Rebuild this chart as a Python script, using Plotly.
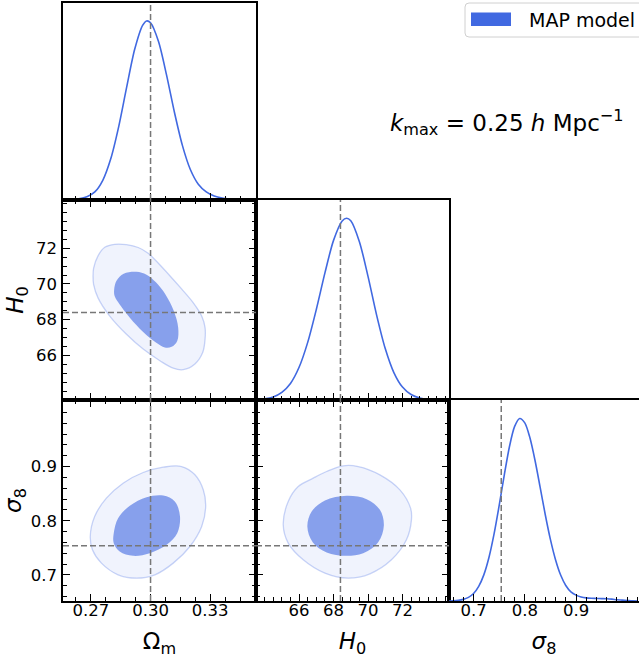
import plotly.graph_objects as go

# ---------------- data ----------------
PARAM_LABELS = ["Ω<sub>m</sub>", "<i>H</i><sub>0</sub>", "<i>σ</i><sub>8</sub>"]
TRUTH_OM = 0.30
TRUTH_H0 = 68.4
TRUTH_S8 = 0.754

OM_RANGE = [0.256, 0.353]
H0_RANGE = [63.5, 74.7]
S8_RANGE = [0.652, 1.023]
PDF_RANGE = [0, 1.1]

OM_TICKS = [0.27, 0.30, 0.33]
OM_TICKTEXT = ["0.27", "0.30", "0.33"]
H0_TICKS = [66, 68, 70, 72]
H0_TICKTEXT = ["66", "68", "70", "72"]
S8_TICKS = [0.7, 0.8, 0.9]
S8_TICKTEXT = ["0.7", "0.8", "0.9"]
OM_MINOR = 0.0075
H0_MINOR = 0.5
S8_MINOR = 0.02

# 1D marginal posteriors (peak-normalised)
OM_GRID = [0.256, 0.260, 0.264, 0.268, 0.272, 0.276, 0.280, 0.284, 0.288, 0.292,
           0.296, 0.298, 0.300, 0.304, 0.308, 0.312, 0.316, 0.320, 0.324, 0.328,
           0.332, 0.336, 0.340, 0.344, 0.348, 0.352]
OM_PDF = [0.001, 0.003, 0.007, 0.018, 0.045, 0.11, 0.23, 0.41, 0.63, 0.84,
          0.975, 1.0, 0.99, 0.885, 0.70, 0.49, 0.305, 0.17, 0.088, 0.045,
          0.022, 0.011, 0.006, 0.003, 0.001, 0.0]

H0_GRID = [63.5, 64.0, 64.5, 65.0, 65.5, 66.0, 66.5, 67.0, 67.5, 68.0, 68.5, 68.76,
           69.0, 69.5, 70.0, 70.5, 71.0, 71.5, 72.0, 72.5, 73.0, 73.5, 74.0, 74.5]
H0_PDF = [0.002, 0.006, 0.017, 0.042, 0.091, 0.18, 0.317, 0.498, 0.699, 0.878, 0.985, 1.0,
          0.986, 0.871, 0.68, 0.467, 0.283, 0.151, 0.071, 0.030, 0.011, 0.0035, 0.001, 0.0]

S8_GRID = [0.652, 0.66, 0.67, 0.68, 0.69, 0.70, 0.71, 0.72, 0.73, 0.74, 0.75, 0.76,
           0.77, 0.78, 0.79, 0.80, 0.81, 0.82, 0.83, 0.84, 0.85, 0.86, 0.87, 0.88,
           0.89, 0.90, 0.91, 0.92, 0.93, 0.94, 0.95, 0.96, 0.97, 0.98, 0.99, 1.00,
           1.01, 1.02]
S8_PDF = [0.0, 0.001, 0.0035, 0.009, 0.02, 0.041, 0.08, 0.143, 0.238, 0.367, 0.523, 0.69,
          0.844, 0.954, 0.999, 0.975, 0.893, 0.769, 0.622, 0.472, 0.337, 0.226, 0.142, 0.085,
          0.05, 0.032, 0.022, 0.017, 0.015, 0.014, 0.013, 0.012, 0.010, 0.007, 0.005, 0.003,
          0.001, 0.0]

# 2D credible-region outlines (95% outer, 68% inner)
OMH0_OUTER_OM = [0.2711, 0.2714, 0.2736, 0.2770, 0.2820, 0.2879, 0.2938, 0.2988, 0.3038,
                 0.3097, 0.3156, 0.3215, 0.3257, 0.3274, 0.3274, 0.3262, 0.3223, 0.3164,
                 0.3114, 0.3047, 0.2963, 0.2879, 0.2795, 0.2736, 0.2714]
OMH0_OUTER_H0 = [70.42, 70.89, 71.57, 72.05, 72.22, 72.20, 72.04, 71.72, 71.17,
                 70.46, 69.72, 68.94, 68.20, 67.55, 66.91, 66.16, 65.52, 65.20,
                 65.28, 65.70, 66.35, 67.18, 68.20, 69.22, 69.96]
OMH0_INNER_OM = [0.2817, 0.2829, 0.2865, 0.2929, 0.2980, 0.3027, 0.3075, 0.3117, 0.3139,
                 0.3134, 0.3106, 0.3072, 0.3027, 0.2963, 0.2896, 0.2845, 0.2820]
OMH0_INNER_H0 = [69.68, 70.18, 70.57, 70.68, 70.52, 70.09, 69.41, 68.48, 67.55,
                 66.81, 66.48, 66.44, 66.72, 67.31, 68.11, 68.85, 69.31]

OMS8_OUTER_OM = [0.2697, 0.2719, 0.2778, 0.2862, 0.2963, 0.3064, 0.3156, 0.3223, 0.3265,
                 0.3277, 0.3257, 0.3198, 0.3114, 0.3022, 0.2929, 0.2837, 0.2753, 0.2708]
OMS8_OUTER_S8 = [0.7711, 0.8080, 0.8418, 0.8695, 0.8892, 0.8990, 0.9002, 0.8849, 0.8572,
                 0.8264, 0.7895, 0.7526, 0.7219, 0.7004, 0.6942, 0.7004, 0.7219, 0.7465]
OMS8_INNER_OM = [0.2815, 0.2837, 0.2896, 0.2980, 0.3064, 0.3122, 0.3148, 0.3134, 0.3081,
                 0.2996, 0.2912, 0.2845, 0.2815]
OMS8_INNER_S8 = [0.7772, 0.8049, 0.8277, 0.8437, 0.8467, 0.8357, 0.8080, 0.7772, 0.7557,
                 0.7403, 0.7354, 0.7434, 0.7588]

H0S8_OUTER_H0 = [65.08, 65.37, 65.95, 66.82, 67.60, 68.56, 69.43, 70.69, 71.85,
                 72.47, 72.52, 72.23, 71.36, 70.11, 68.85, 67.50, 66.24, 65.37]
H0S8_OUTER_S8 = [0.7926, 0.8357, 0.8633, 0.8787, 0.8910, 0.9015, 0.9002, 0.8849, 0.8572,
                 0.8234, 0.8018, 0.7649, 0.7280, 0.7022, 0.6942, 0.7034, 0.7280, 0.7588]
H0S8_INNER_H0 = [66.48, 66.73, 67.50, 68.76, 69.92, 70.69, 70.92, 70.59, 69.72,
                 68.72, 67.60, 66.79]
H0S8_INNER_S8 = [0.7895, 0.8172, 0.8375, 0.8461, 0.8400, 0.8203, 0.7914, 0.7606, 0.7403,
                 0.7354, 0.7416, 0.7606]

LEGEND_LABEL = "MAP model"
KMAX_TEXT = "<i>k</i><sub>max</sub> = 0.25 <i>h</i> Mpc<sup>−1</sup>"

# ---------------- styling ----------------
W, H = 639, 658
BLUE = "#4169E1"
FONT = "DejaVu Sans"


def px(x):
    return x / W


def py(y):
    return 1 - y / H


COLS = [[px(63), px(256)], [px(256), px(449)], [px(449), 1.0]]
ROWS = [[py(200), py(3)], [py(400), py(200)], [py(601), py(400)]]

fig = go.Figure()


def closed(a):
    return list(a) + [a[0]]


def add_contours(xo, yo, xi, yi, xa, ya):
    fig.add_trace(go.Scatter(x=closed(xo), y=closed(yo), mode="lines", fill="toself",
                             fillcolor="rgba(65,105,225,0.08)",
                             line=dict(color="rgba(65,105,225,0.28)", width=1.3, shape="spline",
                                       smoothing=1.0),
                             xaxis=xa, yaxis=ya, hoverinfo="skip", showlegend=False))
    fig.add_trace(go.Scatter(x=closed(xi), y=closed(yi), mode="lines", fill="toself",
                             fillcolor="rgba(65,105,225,0.6)",
                             line=dict(color="rgba(65,105,225,0.0)", width=0.5, shape="spline",
                                       smoothing=1.0),
                             xaxis=xa, yaxis=ya, hoverinfo="skip", showlegend=False))


def add_pdf(xg, pdf, xa, ya):
    fig.add_trace(go.Scatter(x=xg, y=pdf, mode="lines",
                             line=dict(color=BLUE, width=1.6, shape="spline", smoothing=0.8),
                             xaxis=xa, yaxis=ya, hoverinfo="skip", showlegend=False))


add_pdf(OM_GRID, OM_PDF, "x", "y")
add_contours(OMH0_OUTER_OM, OMH0_OUTER_H0, OMH0_INNER_OM, OMH0_INNER_H0, "x2", "y2")
add_pdf(H0_GRID, H0_PDF, "x3", "y3")
add_contours(OMS8_OUTER_OM, OMS8_OUTER_S8, OMS8_INNER_OM, OMS8_INNER_S8, "x4", "y4")
add_contours(H0S8_OUTER_H0, H0S8_OUTER_S8, H0S8_INNER_H0, H0S8_INNER_S8, "x5", "y5")
add_pdf(S8_GRID, S8_PDF, "x6", "y6")

tickfont = dict(family=FONT, size=16.5, color="black")
titlefont = dict(family=FONT, size=23, color="black")

PARAMS = {
    "om": dict(range=OM_RANGE, tickvals=OM_TICKS, ticktext=OM_TICKTEXT, minor=OM_MINOR),
    "h0": dict(range=H0_RANGE, tickvals=H0_TICKS, ticktext=H0_TICKTEXT, minor=H0_MINOR),
    "s8": dict(range=S8_RANGE, tickvals=S8_TICKS, ticktext=S8_TICKTEXT, minor=S8_MINOR),
}
LW = 1.5


def param_axis(p, domain, anchor, labels, mirror, title=None, standoff=6, lab_off=1):
    d = PARAMS[p]
    ax = dict(domain=domain, anchor=anchor, range=d["range"], autorange=False,
              tickmode="array", tickvals=d["tickvals"], ticktext=d["ticktext"],
              showticklabels=labels, ticks="inside", ticklen=7, tickwidth=1.3,
              tickcolor="black", ticklabelstandoff=lab_off,
              minor=dict(tickmode="linear", tick0=0, dtick=d["minor"], ticks="inside",
                         ticklen=4, tickwidth=1.1, tickcolor="black", showgrid=False),
              mirror=mirror, showline=True, linecolor="black", linewidth=LW,
              showgrid=False, zeroline=False, tickfont=tickfont, fixedrange=True,
              automargin=False)
    if title:
        ax["title"] = dict(text=title, font=titlefont, standoff=standoff)
    return ax


def pdf_axis(domain, anchor, mirror=True):
    return dict(domain=domain, anchor=anchor, range=PDF_RANGE, autorange=False,
                showticklabels=False, ticks="", showline=True, mirror=mirror,
                linecolor="black", linewidth=LW, showgrid=False, zeroline=False,
                fixedrange=True, automargin=False)


XOFF = -7   # x tick labels sit close to the axis (ticks point inwards)
XT = 15
layout = dict(
    width=W, height=H, margin=dict(l=0, r=0, t=0, b=0, pad=0),
    paper_bgcolor="white", plot_bgcolor="rgba(0,0,0,0)", showlegend=False,
    font=dict(family=FONT, color="black"),
    # panel 1: Om 1D
    xaxis=param_axis("om", COLS[0], "y", False, True),
    yaxis=pdf_axis(ROWS[0], "x"),
    # panel 2: Om-H0
    xaxis2=param_axis("om", COLS[0], "y2", False, "allticks"),
    yaxis2=param_axis("h0", ROWS[1], "x2", True, "allticks", PARAM_LABELS[1], 6),
    # panel 3: H0 1D
    xaxis3=param_axis("h0", COLS[1], "y3", False, True),
    yaxis3=pdf_axis(ROWS[1], "x3"),
    # panel 4: Om-S8
    xaxis4=param_axis("om", COLS[0], "y4", True, "allticks", PARAM_LABELS[0], XT, XOFF),
    yaxis4=param_axis("s8", ROWS[2], "x4", True, "allticks", PARAM_LABELS[2], 6),
    # panel 5: H0-S8
    xaxis5=param_axis("h0", COLS[1], "y5", True, "allticks", PARAM_LABELS[1], XT, XOFF),
    yaxis5=param_axis("s8", ROWS[2], "x5", False, "allticks"),
    # panel 6: S8 1D
    xaxis6=param_axis("s8", COLS[2], "y6", True, True, PARAM_LABELS[2], XT, XOFF),
    yaxis6=pdf_axis(ROWS[2], "x6", mirror=False),
)
fig.update_layout(**layout)

# truth (dashed) lines
dash = dict(color="#777777", width=1.5, dash="6px,3px")
shapes = []
panels = [("x", "y", TRUTH_OM, None), ("x2", "y2", TRUTH_OM, TRUTH_H0),
          ("x3", "y3", TRUTH_H0, None), ("x4", "y4", TRUTH_OM, TRUTH_S8),
          ("x5", "y5", TRUTH_H0, TRUTH_S8), ("x6", "y6", TRUTH_S8, None)]
for xa, ya, tx, ty in panels:
    shapes.append(dict(type="line", xref=xa, yref=ya + " domain", x0=tx, x1=tx, y0=0, y1=1,
                       line=dash, layer="above"))
    if ty is not None:
        shapes.append(dict(type="line", xref=xa + " domain", yref=ya, x0=0, x1=1, y0=ty, y1=ty,
                           line=dash, layer="above"))

# legend box (rounded, partly off canvas as in the reference)
x0, x1, y0, y1, r = px(465), px(660), py(3), py(37), 4
rx, ry = r / W, r / H
path = (f"M {x0 + rx},{y0} L {x1},{y0} L {x1},{y1} L {x0 + rx},{y1} "
        f"Q {x0},{y1} {x0},{y1 + ry} L {x0},{y0 - ry} Q {x0},{y0} {x0 + rx},{y0} Z")
shapes.append(dict(type="path", xref="paper", yref="paper", path=path,
                   line=dict(color="#d0d0d0", width=1), fillcolor="rgba(255,255,255,0.8)",
                   layer="above"))
shapes.append(dict(type="rect", xref="paper", yref="paper", x0=px(471), x1=px(511),
                   y0=py(12.5), y1=py(26), fillcolor=BLUE, line=dict(width=0), layer="above"))
fig.update_layout(shapes=shapes)

fig.add_annotation(xref="paper", yref="paper", x=px(527), y=py(19.5), xanchor="left",
                   yanchor="middle", text=LEGEND_LABEL, showarrow=False,
                   font=dict(family=FONT, size=19, color="black"))
fig.add_annotation(xref="paper", yref="paper", x=px(507), y=py(122), xanchor="center",
                   yanchor="middle", text=KMAX_TEXT, showarrow=False,
                   font=dict(family=FONT, size=23, color="black"))

fig.write_html("out.html",
               config={"displayModeBar": False},
               post_script="document.body.style.margin='0px';"
                           "document.body.style.overflow='hidden';")
